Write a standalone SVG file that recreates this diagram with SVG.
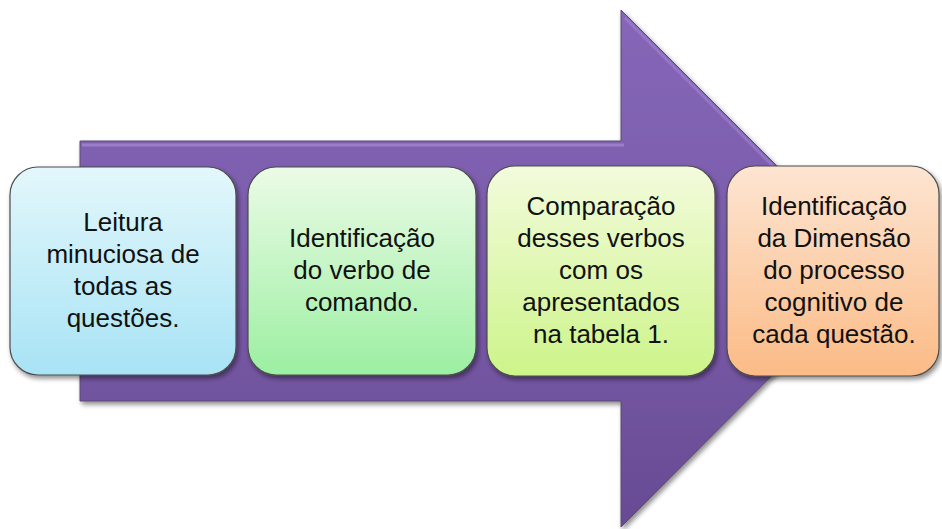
<svg xmlns="http://www.w3.org/2000/svg" width="942" height="529" viewBox="0 0 942 529">
<defs>
<linearGradient id="gArrow" x1="0" y1="0" x2="0" y2="1">
<stop offset="0" stop-color="#8566b8"/>
<stop offset="0.5" stop-color="#7a5caa"/>
<stop offset="1" stop-color="#684a93"/>
</linearGradient>
<linearGradient id="g1" x1="0" y1="0" x2="0" y2="1">
<stop offset="0" stop-color="#e3f7fb"/>
<stop offset="1" stop-color="#a8e3f5"/>
</linearGradient>
<linearGradient id="g2" x1="0" y1="0" x2="0" y2="1">
<stop offset="0" stop-color="#ebfbe6"/>
<stop offset="1" stop-color="#9cefa2"/>
</linearGradient>
<linearGradient id="g3" x1="0" y1="0" x2="0" y2="1">
<stop offset="0" stop-color="#f3fbdc"/>
<stop offset="1" stop-color="#cdf48a"/>
</linearGradient>
<linearGradient id="g4" x1="0" y1="0" x2="0" y2="1">
<stop offset="0" stop-color="#fde5d2"/>
<stop offset="1" stop-color="#fbbb86"/>
</linearGradient>
<filter id="sh" x="-10%" y="-10%" width="125%" height="125%">
<feGaussianBlur in="SourceAlpha" stdDeviation="2.5"/>
<feOffset dx="2" dy="3" result="b"/>
<feComponentTransfer><feFuncA type="linear" slope="0.45"/></feComponentTransfer>
<feMerge><feMergeNode/><feMergeNode in="SourceGraphic"/></feMerge>
</filter>
</defs>
<style>
.box{stroke:#4d4d4d;stroke-width:1.2;filter:url(#sh)}
.t{font-family:"Liberation Sans",Arial,sans-serif;font-size:26px;fill:#111;text-anchor:middle}
</style>
<g id="arrow">
<polygon points="80,141 621,141 621,10 879,268 621,527 621,401 80,401" fill="url(#gArrow)" stroke="#5a4a70" stroke-width="1" filter="url(#sh)"/>
<polyline points="82,145 624,145" fill="none" stroke="#a58bd4" stroke-width="3" opacity="0.7"/>
<polyline points="625,18 873,266" fill="none" stroke="#a58bd4" stroke-width="3" opacity="0.5"/>
</g>
<g id="connectors"></g>
<g id="n1">
<rect class="box" x="10" y="167" width="226" height="208" rx="28" fill="url(#g1)"/>
<text class="t" x="123" y="231">Leitura</text>
<text class="t" x="123" y="263">minuciosa de</text>
<text class="t" x="123" y="295">todas as</text>
<text class="t" x="123" y="327">questões.</text>
</g>
<g id="n2">
<rect class="box" x="248" y="167" width="228" height="208" rx="28" fill="url(#g2)"/>
<text class="t" x="362" y="247">Identificação</text>
<text class="t" x="362" y="279">do verbo de</text>
<text class="t" x="362" y="311">comando.</text>
</g>
<g id="n3">
<rect class="box" x="487" y="166" width="228" height="210" rx="28" fill="url(#g3)"/>
<text class="t" x="601" y="215">Comparação</text>
<text class="t" x="601" y="247">desses verbos</text>
<text class="t" x="601" y="279">com os</text>
<text class="t" x="601" y="311">apresentados</text>
<text class="t" x="601" y="343">na tabela 1.</text>
</g>
<g id="n4">
<rect class="box" x="727" y="166" width="212" height="210" rx="28" fill="url(#g4)"/>
<text class="t" x="834" y="215">Identificação</text>
<text class="t" x="834" y="247">da Dimensão</text>
<text class="t" x="834" y="279">do processo</text>
<text class="t" x="834" y="311">cognitivo de</text>
<text class="t" x="834" y="343">cada questão.</text>
</g>
</svg>
